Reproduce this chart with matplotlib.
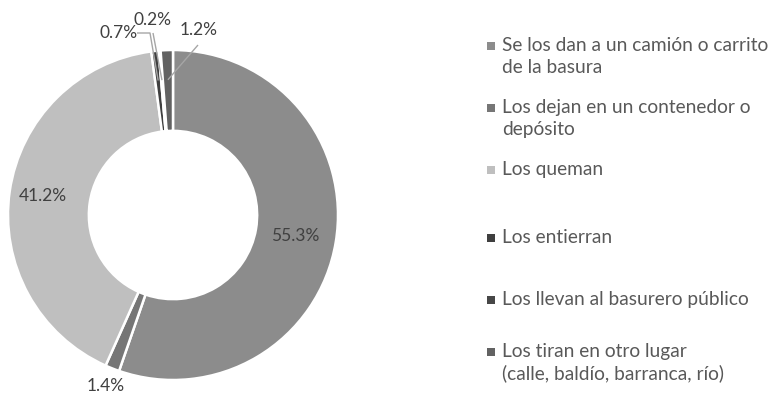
import matplotlib
matplotlib.use('Agg')
import matplotlib.pyplot as plt
import matplotlib.patches as mpatches
import numpy as np

# Destino de la basura (% de hogares)
categories = [
    "Se los dan a un camión o carrito\nde la basura",
    "Los dejan en un contenedor o\ndepósito",
    "Los queman",
    "Los entierran",
    "Los llevan al basurero público",
    "Los tiran en otro lugar\n(calle, baldío, barranca, río)",
]
values = [55.3, 1.4, 41.2, 0.7, 0.2, 1.2]
colors = ['#8c8c8c', '#767676', '#bfbfbf', '#3f3f3f', '#474747', '#626262']

W, H = 773, 399
FONT = 'Lato'
TXT = '#404040'
LEG_TXT = '#595959'

# geometry in pixels
CX, CY, R = 173, 215, 165
HALF = 200


def fig_xy(px, py):
    return px / W, 1 - py / H


def data_xy(px, py):
    return (px - CX) / R, (CY - py) / R


fig = plt.figure(figsize=(W / 100, H / 100), dpi=100)
fig.patch.set_facecolor('white')

ax = fig.add_axes([(CX - HALF) / W, (H - CY - HALF) / H, 2 * HALF / W, 2 * HALF / H])
wedges, _ = ax.pie(values, colors=colors, startangle=90, counterclock=False,
                   radius=1.0,
                   wedgeprops=dict(width=0.49, edgecolor='white', linewidth=1.8))
# pie() resets the limits, so set them afterwards
ax.set_xlim(-HALF / R, HALF / R)
ax.set_ylim(-HALF / R, HALF / R)
ax.set_aspect('equal')
ax.axis('off')


def mid_point(w, r):
    t = np.deg2rad((w.theta1 + w.theta2) / 2)
    return r * np.cos(t), r * np.sin(t)


# labels on the ring
for i, r in [(0, 0.75), (2, 0.80)]:
    x, y = mid_point(wedges[i], r)
    ax.text(x, y, f'{values[i]:.1f}%', ha='center', va='center',
            fontsize=12.5, family=FONT, color=TXT)

# label just outside the ring
x, y = mid_point(wedges[1], 1.115)
ax.text(x, y, f'{values[1]:.1f}%', ha='center', va='center',
        fontsize=12.5, family=FONT, color=TXT)

# small slices at the top, with leader lines
small = [
    # wedge index, label pos (px), leader path (px) ending on the wedge
    (3, (119, 33), [(137, 33), (150, 33)]),
    (4, (153, 20), [(153, 33)]),
    (5, (199, 30), [(198, 45)]),
]
for i, (lx, ly), path in small:
    ax.text(*data_xy(lx, ly), f'{values[i]:.1f}%', ha='center', va='center',
            fontsize=12.5, family=FONT, color=TXT)
    pts = [data_xy(*p) for p in path] + [mid_point(wedges[i], 0.82)]
    xs, ys = zip(*pts)
    ax.plot(xs, ys, color='#a6a6a6', lw=1.0, solid_capstyle='butt')

# legend: one square per entry, text lines placed by baseline
LEG_X = 487
SQ = 8
LINE = 22
item_y = [46, 108, 170, 238, 300, 352]
for cat, col, y in zip(categories, colors, item_y):
    x0, y0 = fig_xy(LEG_X, y + SQ / 2)
    fig.patches.append(mpatches.Rectangle((x0, y0), SQ / W, SQ / H,
                                          transform=fig.transFigure,
                                          facecolor=col, edgecolor='none'))
    for k, line in enumerate(cat.split('\n')):
        tx, ty = fig_xy(502, y + 5 + k * LINE)
        fig.text(tx, ty, line, ha='left', va='baseline',
                 fontsize=13.8, family=FONT, color=LEG_TXT)

fig.savefig('out.png', dpi=100, facecolor='white')
